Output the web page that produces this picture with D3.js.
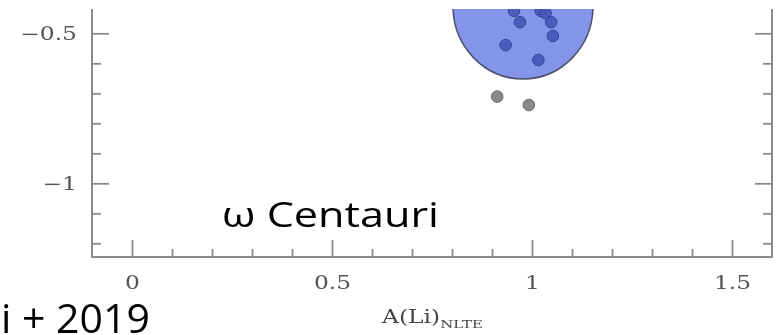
<!DOCTYPE html>
<html>
<head>
<meta charset="utf-8">
<script src="https://cdn.jsdelivr.net/npm/d3@7/dist/d3.min.js"></script>
<style>
  html, body { margin: 0; padding: 0; background: #ffffff; }
  svg { display: block; }
</style>
</head>
<body>
<svg id="chart" width="777" height="335"></svg>
<script>
// Lithium abundance of omega Centauri stars
const xMajorTicks = [0, 0.5, 1, 1.5];
const xTickLabels = ["0", "0.5", "1", "1.5"];
const xMinorTicks = [0.1, 0.2, 0.3, 0.4, 0.6, 0.7, 0.8, 0.9, 1.1, 1.2, 1.3, 1.4];
const yMajorTicks = [-1, -0.5];
const yTickLabels = ["\u22121", "\u22120.5"];
const yMinorTicks = [-1.2, -1.1, -0.9, -0.8, -0.7, -0.6];

// stars inside the shaded region
const bandLi = [0.955, 1.022, 1.034, 0.970, 1.048, 1.052, 0.934, 1.016];
const bandY  = [-0.425, -0.425, -0.433, -0.463, -0.463, -0.509, -0.539, -0.589];
// stars below the shaded region
const lowLi = [0.913, 0.992];
const lowY  = [-0.711, -0.739];

// shaded region (centre and semi-axes, data units)
const regionCenter = [0.9775, -0.409];
const regionRadii = [0.175, 0.2433];

const svg = d3.select("#chart");
const L = 92, R = 772, T = 9, B = 257;
const stretch = 1.3; // wide lettering of the figure's labels

const x = d3.scaleLinear().domain([-0.1, 1.6]).range([L, R]);
const y = d3.scaleLinear().domain([-1.2457, -0.419]).range([B, T]);

const defs = svg.append("defs");
defs.append("clipPath").attr("id", "plotClip")
  .append("rect").attr("x", L).attr("y", T).attr("width", R - L).attr("height", B - T);
defs.append("filter").attr("id", "soft").attr("x", "-5%").attr("y", "-5%").attr("width", "110%").attr("height", "110%")
  .append("feGaussianBlur").attr("stdDeviation", 0.55);

const plot = svg.append("g").attr("filter", "url(#soft)");
const marks = plot.append("g").attr("clip-path", "url(#plotClip)");

// shaded region
marks.append("ellipse")
  .attr("cx", x(regionCenter[0]))
  .attr("cy", y(regionCenter[1]))
  .attr("rx", x(regionCenter[0] + regionRadii[0]) - x(regionCenter[0]))
  .attr("ry", y(regionCenter[1] - regionRadii[1]) - y(regionCenter[1]))
  .attr("fill", "#8494e8")
  .attr("stroke", "#4a4f6a")
  .attr("stroke-width", 1.5);

marks.selectAll("circle.band")
  .data(d3.zip(bandLi, bandY))
  .join("circle")
  .attr("class", "band")
  .attr("cx", d => x(d[0]))
  .attr("cy", d => y(d[1]))
  .attr("r", 5.8)
  .attr("fill", "#4657b8")
  .attr("fill-opacity", 0.92)
  .attr("stroke", "#374593")
  .attr("stroke-width", 1);

marks.selectAll("circle.low")
  .data(d3.zip(lowLi, lowY))
  .join("circle")
  .attr("class", "low")
  .attr("cx", d => x(d[0]))
  .attr("cy", d => y(d[1]))
  .attr("r", 5.8)
  .attr("fill", "#8a8a8a")
  .attr("stroke", "#666666")
  .attr("stroke-width", 1);

// axes
const axisColor = "#8a8a8a";
const labelColor = "#555555";
const tickFont = "DejaVu Serif";

function styleAxis(g) {
  g.select(".domain").remove();
  g.selectAll(".tick line").attr("stroke", axisColor).attr("stroke-width", 1.8);
  g.selectAll(".tick text").attr("fill", labelColor).attr("font-family", tickFont).attr("font-size", 18);
}

plot.append("g").attr("transform", `translate(0,${B})`)
  .call(d3.axisBottom(x).tickValues(xMajorTicks).tickSize(-17).tickPadding(0)
    .tickFormat((d, i) => xTickLabels[i]))
  .call(styleAxis)
  .call(g => g.selectAll(".tick text")
    .attr("y", 0).attr("dy", null)
    .attr("transform", `translate(0,32) scale(${stretch},1)`));
plot.append("g").attr("transform", `translate(0,${B})`)
  .call(d3.axisBottom(x).tickValues(xMinorTicks).tickSize(-8).tickFormat(""))
  .call(styleAxis);

plot.append("g").attr("transform", `translate(${L},0)`)
  .call(d3.axisLeft(y).tickValues(yMajorTicks).tickSize(-17).tickPadding(0)
    .tickFormat((d, i) => yTickLabels[i]))
  .call(styleAxis)
  .call(g => g.selectAll(".tick text")
    .attr("x", 0)
    .attr("transform", `translate(-15,0) scale(${stretch},1)`));
plot.append("g").attr("transform", `translate(${L},0)`)
  .call(d3.axisLeft(y).tickValues(yMinorTicks).tickSize(-9).tickFormat(""))
  .call(styleAxis);

plot.append("g").attr("transform", `translate(${R},0)`)
  .call(d3.axisRight(y).tickValues(yMajorTicks).tickSize(-17).tickFormat(""))
  .call(styleAxis);
plot.append("g").attr("transform", `translate(${R},0)`)
  .call(d3.axisRight(y).tickValues(yMinorTicks).tickSize(-9).tickFormat(""))
  .call(styleAxis);

// frame
plot.append("path")
  .attr("d", `M${L},${T} V${B} H${R} V${T}`)
  .attr("fill", "none")
  .attr("stroke", axisColor)
  .attr("stroke-width", 2);

// axis title
const title = plot.append("text")
  .attr("transform", `translate(382,323) scale(${stretch},1)`)
  .attr("font-family", tickFont)
  .attr("fill", "#444")
  .attr("font-size", 18);
title.append("tspan").text("A(Li)");
title.append("tspan").attr("font-size", 11.5).attr("dy", 5).text("NLTE");

// annotations
svg.append("text")
  .attr("transform", `translate(222,227) scale(1.27,1)`)
  .attr("font-family", "Open Sans")
  .attr("font-size", 34)
  .attr("fill", "#000")
  .text("\u03c9 Centauri");

svg.append("text")
  .attr("x", 1).attr("y", 333)
  .attr("font-family", "Open Sans")
  .attr("font-size", 41)
  .attr("fill", "#000")
  .text("i + 2019");
</script>
</body>
</html>
